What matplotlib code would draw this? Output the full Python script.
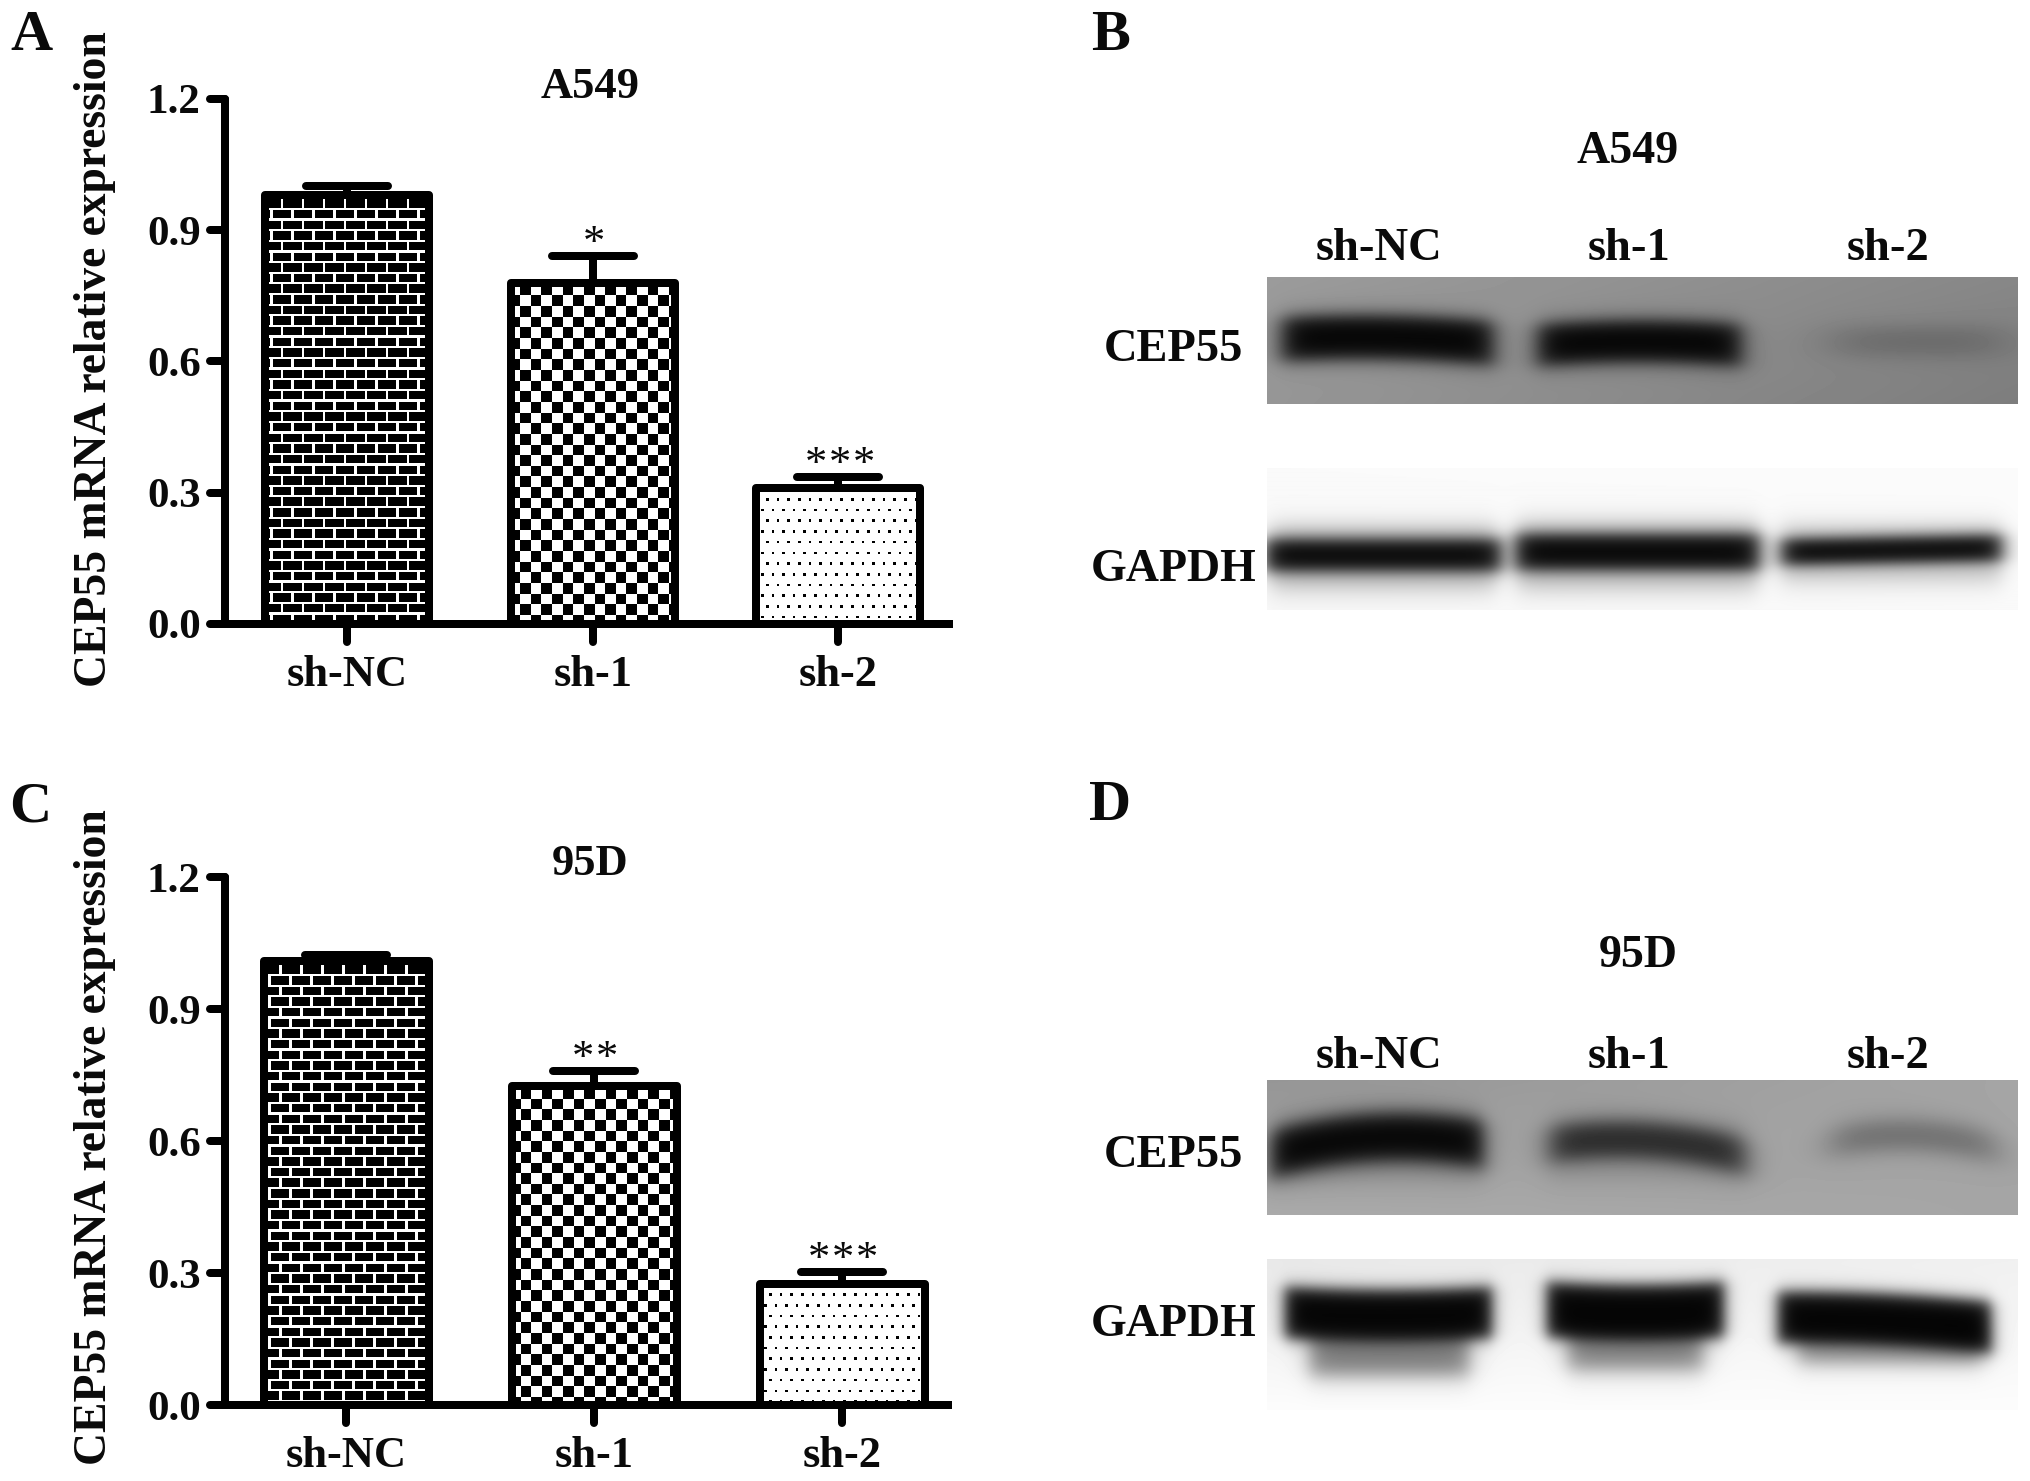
import numpy as np
import matplotlib
matplotlib.use("Agg")
import matplotlib.pyplot as plt
from matplotlib.collections import PatchCollection
from matplotlib.patches import Rectangle
from matplotlib.markers import MarkerStyle, TICKLEFT, TICKDOWN
from matplotlib.transforms import IdentityTransform

W, H = 2031, 1481
plt.rcParams['font.family'] = ['Liberation Serif', 'DejaVu Serif']
plt.rcParams['font.weight'] = 'bold'

# ---- data ----
categories = ['sh-NC', 'sh-1', 'sh-2']
y_ticks = [0.0, 0.3, 0.6, 0.9, 1.2]
y_label = 'CEP55 mRNA relative expression'

a549_values = [0.98, 0.78, 0.31]
a549_errors = [0.02, 0.062, 0.027]
a549_stars = [0, 1, 3]

d95_values = [1.008, 0.725, 0.276]
d95_errors = [0.015, 0.033, 0.026]
d95_stars = [0, 2, 3]

# blot bands: (x centre, half width, y centre, half height, darkness, edge x, edge y, arch, tilt), in blot pixels
a_cep55_bands = [(120, 106, 60, 22, .97, 14, 10, 4, 2), (372, 102, 64, 21, .97, 14, 10, 4, 0), (650, 85, 64, 14, .22, 35, 12, 0, 0)]
a_gapdh_bands = [(116, 118, 87, 16, .97, 12, 9, 0, 0), (370, 122, 84, 18, .97, 12, 9, 0, 0), (624, 110, 82, 13, .97, 12, 8, 0, -2),
                 (116, 112, 90, 32, .22, 12, 14, 0, 0), (370, 120, 88, 34, .22, 12, 14, 0, 0), (624, 110, 86, 28, .2, 12, 14, 0, 0)]
d_cep55_bands = [(110, 106, 57, 24, .97, 12, 12, 12, -5), (380, 97, 60, 18, .75, 16, 12, 10, 6), (646, 82, 55, 14, .36, 22, 13, 10, 3),
                 (110, 100, 72, 28, .12, 16, 16, 0, 0), (380, 100, 72, 28, .10, 16, 16, 0, 0)]
d_gapdh_bands = [(121, 104, 56, 26, .98, 9, 9, -3, 0), (368, 89, 53, 28, .98, 9, 9, -3, 0), (617, 107, 60, 26, .98, 9, 9, 3, 5),
                 (122, 80, 92, 24, .5, 12, 13, 0, 0), (368, 68, 86, 24, .48, 12, 13, 0, 0), (622, 92, 84, 20, .42, 12, 12, 0, 0)]


def axes_px(left, top, right, bottom):
    return fig.add_axes([left / W, 1 - bottom / H, (right - left) / W, (bottom - top) / H])


def label(x, y, s, size, ha='center', weight='bold', **kw):
    return fig.text(x / W, 1 - y / H, s, fontsize=size, ha=ha, va='baseline', fontweight=weight, color='#0a0a0a', **kw)


def pattern_rects(kind, bbox, inset):
    x0, x1 = bbox.x0 + inset, bbox.x1 - inset
    ytop, ybot = bbox.y1 - inset, bbox.y0
    rects = []
    if kind == 'brick':
        px, py, bw, bh = 21.0, 10.65, 18.2, 8.4
        r = 0
        y = ytop - 2
        while y > ybot:
            start = x0 + (16 if r % 2 == 0 else 5.5) - px * 2
            x = start
            while x < x1:
                rects.append(Rectangle((x, y - bh), bw, bh))
                x += px
            y -= py
            r += 1
    elif kind == 'check':
        c = 10.65
        r = 0
        y = ytop
        while y > ybot:
            x = x0 + (0 if r % 2 == 0 else c) - 2 * c + 7
            while x < x1:
                rects.append(Rectangle((x, y - c), c, c))
                x += 2 * c
            y -= c
            r += 1
    else:
        px, py, d = 10.6, 10.7, 2.6
        r = 0
        y = ytop - 9
        while y > ybot:
            x = x0 + (9 if r % 2 == 0 else 3.7)
            while x < x1:
                rects.append(Rectangle((x - d / 2, y - d / 2), d, d))
                x += px
            y -= py
            r += 1
    return rects


def bar_panel(box, centres, width, values, errors, stars, title, title_xy, star_offset):
    left, top, right, bottom = box
    ax = axes_px(left, top, right, bottom)
    step = centres[1] - centres[0]
    ax.set_xlim((left - centres[0]) / step, (right - centres[0]) / step)
    ax.set_ylim(0, 1.2)
    ax.patch.set_alpha(0)
    xpos = np.arange(len(categories))
    lw = 8 * 0.72
    bars = ax.bar(xpos, values, width=width / step, facecolor='white', edgecolor='black',
                  linewidth=lw, joinstyle='round', zorder=1)
    fig.canvas.draw()
    for b, kind in zip(bars, ['brick', 'check', 'dots']):
        bb = b.get_window_extent()
        coll = PatchCollection(pattern_rects(kind, bb, 2), facecolor='black', edgecolor='none',
                               linewidth=0, transform=IdentityTransform(), zorder=1.5)
        ax.add_collection(coll, autolim=False)
        coll.set_clip_path(b)
    tops = np.array(values) + np.array(errors)
    ax.vlines(xpos, values, tops, colors='black', linewidth=lw, zorder=0.9)
    half = 41 / step
    ax.hlines(tops, xpos - half, xpos + half, colors='black', linewidth=lw, capstyle='round', zorder=2)

    for s in ['top', 'right']:
        ax.spines[s].set_visible(False)
    ax.spines['left'].set_linewidth(lw)
    ax.spines['left'].set_capstyle('round')
    ax.spines['bottom'].set_linewidth(lw)
    ax.spines['bottom'].set_capstyle('butt')
    ax.set_yticks(y_ticks)
    ax.set_yticklabels([f'{v:.1f}' for v in y_ticks], fontsize=31, fontweight='bold')
    ax.set_xticks(xpos)
    ax.set_xticklabels(categories, fontsize=32, fontweight='bold')
    ax.tick_params(axis='y', length=10.5, width=lw, pad=7, color='black', labelcolor='#0a0a0a')
    ax.tick_params(axis='x', length=13, width=lw, pad=9, color='black', labelcolor='#0a0a0a')
    for t in ax.yaxis.get_major_ticks():
        t.tick1line.set_marker(MarkerStyle(TICKLEFT, capstyle='round'))
    for t in ax.xaxis.get_major_ticks():
        t.tick1line.set_marker(MarkerStyle(TICKDOWN, capstyle='round'))

    # significance stars, placed above each error bar
    for i, n in enumerate(stars):
        disp = ax.transData.transform((i, tops[i]))
        for k in range(n):
            sx = disp[0] + 1 + (k - (n - 1) / 2) * 24
            sy = H - disp[1] - star_offset + 20
            label(sx, sy, '*', 32, weight='normal')
    label(title_xy[0], title_xy[1], title, 32)
    return ax


def blot(box, background, bands):
    left, top, right, bottom = box
    w, h = right - left, bottom - top
    yy, xx = np.mgrid[0:h, 0:w].astype(float)
    tl, tr, bl, br = background
    u, v = xx / (w - 1), yy / (h - 1)
    img = tl * (1 - u) * (1 - v) + tr * u * (1 - v) + bl * (1 - u) * v + br * u * v
    for xc, hw, yc, hh, dark, ex, ey, arch, tilt in bands:
        n = (xx - xc) / hw
        centre = yc + arch * np.clip(n, -1.5, 1.5) ** 2 + tilt * np.clip(n, -1.5, 1.5)
        sx = 0.5 * (np.tanh((xx - xc + hw) / ex) - np.tanh((xx - xc - hw) / ex))
        sy = 0.5 * (np.tanh((yy - centre + hh) / ey) - np.tanh((yy - centre - hh) / ey))
        img = img * (1 - dark * sx * sy)
    ax = axes_px(left, top, right, bottom)
    ax.imshow(img, cmap='gray', vmin=0, vmax=255, aspect='auto', interpolation='bilinear')
    ax.axis('off')


fig = plt.figure(figsize=(W / 100, H / 100), dpi=100, facecolor='white')

bar_panel((225, 99, 953, 624), [347.5, 593, 839], 164, a549_values, a549_errors, a549_stars, 'A549', (590, 98), 21)
bar_panel((225, 877, 952, 1405), [346, 594, 842], 165, d95_values, d95_errors, d95_stars, '95D', (590, 875), 21)

blot((1267, 277, 2018, 404), (155, 135, 150, 125), a_cep55_bands)
blot((1267, 468, 2018, 610), (250, 251, 248, 250), a_gapdh_bands)
blot((1267, 1080, 2018, 1215), (150, 165, 170, 165), d_cep55_bands)
blot((1267, 1259, 2018, 1410), (232, 240, 252, 252), d_gapdh_bands)

label(31, 50, 'A', 42)
label(1110, 50, 'B', 42)
label(30, 821, 'C', 42)
label(1110, 820, 'D', 42)

fig.text(95 / W, 1 - 359 / H, y_label, fontsize=32.9, rotation=90, ha='center', va='center', fontweight='bold', color='#0a0a0a')
fig.text(95 / W, 1 - 1137 / H, y_label, fontsize=32.9, rotation=90, ha='center', va='center', fontweight='bold', color='#0a0a0a')

for base, title, ty in [(260, 'A549', 163), (1068, '95D', 967)]:
    label(1628 if title == 'A549' else 1638, ty, title, 33)
    for cx, name in zip([1379, 1629, 1888], categories):
        label(cx, base, name, 33.5)
label(1173, 361, 'CEP55', 33.5)
label(1174, 581, 'GAPDH', 33)
label(1173, 1167, 'CEP55', 33.5)
label(1174, 1336, 'GAPDH', 33)

fig.savefig('out.png', dpi=100, facecolor='white')
